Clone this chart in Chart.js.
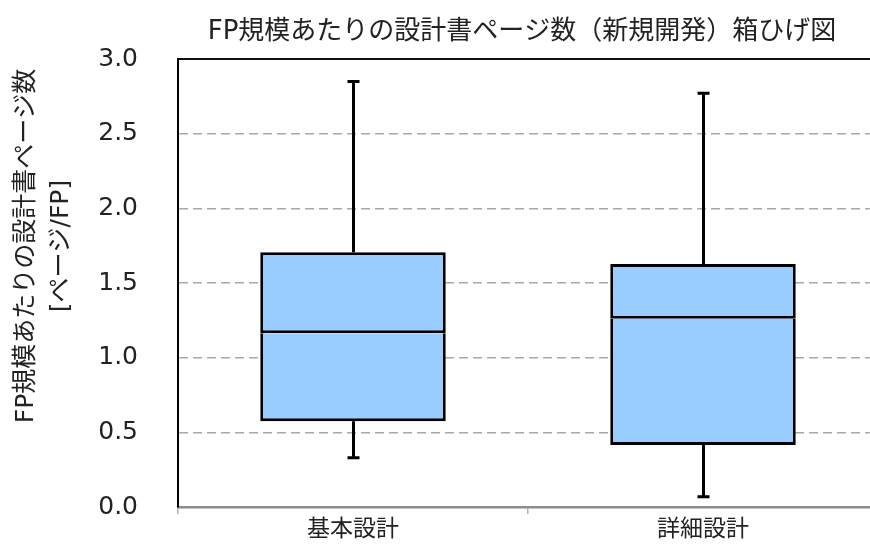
<!DOCTYPE html>
<html>
<head>
<meta charset="utf-8">
<script src="https://cdn.jsdelivr.net/npm/chart.js@4"></script>
<style>
  body { margin: 0; overflow: hidden; background: #fff; }
  #wrap { width: 870px; height: 549px; overflow: hidden; position: relative; }
  canvas { display: block; }
</style>
</head>
<body>
<div id="wrap"><canvas id="boxChart" width="880" height="549"></canvas></div>
<script>
const categories = ['基本設計', '詳細設計'];
const minVals = [0.33, 0.068];
const q1Vals = [0.575, 0.415];
const medianVals = [1.163, 1.26];
const q3Vals = [1.706, 1.628];
const maxVals = [2.85, 2.77];
const yTicks = [0, 0.5, 1.0, 1.5, 2.0, 2.5, 3.0];

const chartTitle = 'FP規模あたりの設計書ページ数（新規開発）箱ひげ図';
const yTitle = ['FP規模あたりの設計書ページ数', '[ページ/FP]'];

const JP_FONT = "'DejaVu Sans', 'Noto Sans CJK JP', sans-serif";
const TEXT_COLOR = '#222';

// whiskers (min..q1, q3..max) with caps, positioned via the chart scales
const whiskerPlugin = {
    id: 'whiskers',
    afterDatasetsDraw(chart) {
        const { ctx, scales: { x, y } } = chart;
        ctx.save();
        ctx.strokeStyle = '#000';
        ctx.lineWidth = 3;
        categories.forEach((c, i) => {
            const cx = Math.round(x.getPixelForValue(i)) + 0.5;
            const capHalf = 6;
            ctx.beginPath();
            ctx.moveTo(cx, y.getPixelForValue(maxVals[i]));
            ctx.lineTo(cx, y.getPixelForValue(q3Vals[i]));
            ctx.moveTo(cx, y.getPixelForValue(q1Vals[i]));
            ctx.lineTo(cx, y.getPixelForValue(minVals[i]));
            ctx.moveTo(cx - capHalf, y.getPixelForValue(maxVals[i]));
            ctx.lineTo(cx + capHalf, y.getPixelForValue(maxVals[i]));
            ctx.moveTo(cx - capHalf, y.getPixelForValue(minVals[i]));
            ctx.lineTo(cx + capHalf, y.getPixelForValue(minVals[i]));
            ctx.stroke();
        });
        ctx.restore();
    }
};

// chart title and the two-line y axis title
const titlesPlugin = {
    id: 'titles',
    afterDraw(chart) {
        const { ctx, chartArea } = chart;
        ctx.save();
        ctx.fillStyle = TEXT_COLOR;
        ctx.textAlign = 'center';
        ctx.textBaseline = 'middle';
        ctx.font = "26px " + JP_FONT;
        ctx.fillText(chartTitle, (chartArea.left + chartArea.right) / 2 - 6, 32);

        ctx.font = "25px " + JP_FONT;
        ctx.translate(0, 246);
        ctx.rotate(-Math.PI / 2);
        ctx.fillText(yTitle[0], 0, 26);
        ctx.fillText(yTitle[1], 0, 61);
        ctx.restore();
    }
};

const ctx = document.getElementById('boxChart').getContext('2d');
new Chart(ctx, {
    type: 'bar',
    data: {
        labels: categories,
        datasets: [
            {
                label: 'Q1-median',
                data: q1Vals.map((v, i) => [v, medianVals[i]]),
                backgroundColor: '#99ccff',
                borderColor: '#000',
                borderWidth: 3,
                borderSkipped: 'top',
                grouped: false,
                barPercentage: 0.53,
                categoryPercentage: 1
            },
            {
                label: 'median-Q3',
                data: medianVals.map((v, i) => [v, q3Vals[i]]),
                backgroundColor: '#99ccff',
                borderColor: '#000',
                borderWidth: 3,
                borderSkipped: false,
                grouped: false,
                barPercentage: 0.53,
                categoryPercentage: 1
            }
        ]
    },
    options: {
        responsive: false,
        animation: false,
        layout: { padding: { top: 59, right: 2, left: 0, bottom: 0 } },
        plugins: {
            legend: { display: false },
            tooltip: { enabled: false }
        },
        scales: {
            x: {
                position: 'bottom',
                offset: true,
                afterFit: (scale) => { scale.height = 42; scale.paddingLeft = 0; scale.paddingRight = 0; },
                grid: {
                    offset: true,
                    drawOnChartArea: false,
                    drawTicks: true,
                    tickLength: 7,
                    color: '#b0b0b0',
                    lineWidth: 1.5
                },
                border: { display: true, color: '#8c8c8c', width: 2.5 },
                ticks: {
                    color: TEXT_COLOR,
                    padding: 2,
                    font: { family: JP_FONT, size: 23 }
                }
            },
            xTop: {
                type: 'category',
                position: 'top',
                afterFit: (scale) => { scale.height = 0; },
                grid: { drawOnChartArea: false, drawTicks: false },
                border: { display: true, color: '#111', width: 2 },
                ticks: { display: false }
            },
            y: {
                min: 0,
                max: 3,
                afterFit: (scale) => { scale.width = 178; scale.paddingTop = 14; scale.paddingBottom = 14; },
                afterBuildTicks: (scale) => { scale.ticks = yTicks.map(v => ({ value: v })); },
                grid: {
                    drawTicks: false,
                    lineWidth: 1.5,
                    color: (c) => (c.tick && (c.tick.value === 0 || c.tick.value === 3)) ? 'rgba(0,0,0,0)' : '#a8a8a8'
                },
                border: { display: true, color: '#000', width: 2, dash: [9, 5] },
                ticks: {
                    color: TEXT_COLOR,
                    padding: 40,
                    font: { family: "'DejaVu Sans', sans-serif", size: 25 },
                    callback: (v) => Number(v).toFixed(1)
                }
            }
        }
    },
    plugins: [whiskerPlugin, titlesPlugin]
});
</script>
</body>
</html>
